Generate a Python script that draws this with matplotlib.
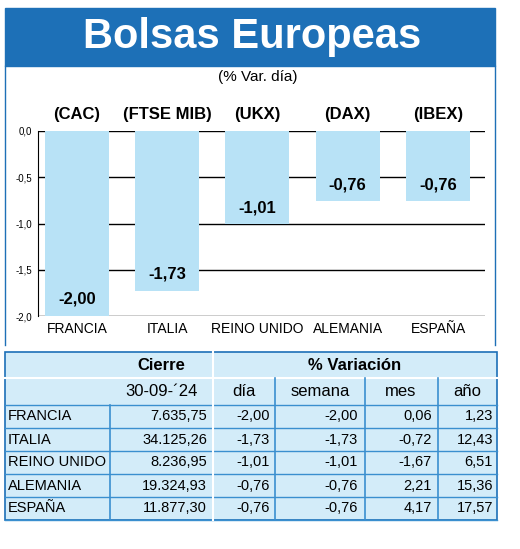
import matplotlib
matplotlib.use("Agg")
import matplotlib.pyplot as plt
from matplotlib.patches import Rectangle

plt.rcParams['font.family'] = ['Liberation Sans Narrow', 'Liberation Sans', 'DejaVu Sans']

codes = ["(CAC)", "(FTSE MIB)", "(UKX)", "(DAX)", "(IBEX)"]
countries = ["FRANCIA", "ITALIA", "REINO UNIDO", "ALEMANIA", "ESPAÑA"]
values = [-2.00, -1.73, -1.01, -0.76, -0.76]
cierre = ["7.635,75", "34.125,26", "8.236,95", "19.324,93", "11.877,30"]
dia = ["-2,00", "-1,73", "-1,01", "-0,76", "-0,76"]
semana = ["-2,00", "-1,73", "-1,01", "-0,76", "-0,76"]
mes = ["0,06", "-0,72", "-1,67", "2,21", "4,17"]
anio = ["1,23", "12,43", "6,51", "15,36", "17,57"]
yticks = [0.0, -0.5, -1.0, -1.5, -2.0]

W, H = 520, 549
fig = plt.figure(figsize=(W/100, H/100), dpi=100)
BLUE = "#1d70b7"
LIGHT = "#b8e2f6"

# background axes in pixel coords
bg = fig.add_axes([0, 0, 1, 1])
bg.set_xlim(0, W); bg.set_ylim(H, 0); bg.axis("off")
bg.add_patch(Rectangle((5, 8), 490, 58, color=BLUE))
bg.text(252, 37, "Bolsas Europeas", color="white", fontsize=30, fontweight="bold",
        ha="center", va="center", family=['Liberation Sans', 'DejaVu Sans'])
bg.text(258, 77, "(% Var. día)", fontsize=11, ha="center", va="center")
bg.plot([5, 5], [66, 345], color=BLUE, lw=1)
bg.plot([495, 495], [66, 345], color=BLUE, lw=1)

# chart
x0, x1, yt, yb = 38, 485, 131, 316
ax = fig.add_axes([x0/W, 1-yb/H, (x1-x0)/W, (yb-yt)/H])
xs = list(range(len(values)))
ax.bar(xs, values, width=0.71, color=LIGHT, zorder=2)
ax.set_ylim(-2.0, 0.0)
ax.set_xlim(-0.43, 4.52)
ax.set_yticks(yticks)
ax.set_yticklabels([f"{v:.1f}".replace(".", ",") for v in yticks], fontsize=7)
ax.yaxis.grid(True, color="black", lw=1, zorder=1)
ax.set_xticks(xs)
ax.set_xticklabels(countries, fontsize=10)
ax.tick_params(length=0, pad=4)
for s in ["top", "right", "bottom"]:
    ax.spines[s].set_visible(False)
ax.spines["left"].set_color("black")
for i, v in enumerate(values):
    ax.text(i, v + 0.1, f"{v:.2f}".replace(".", ","), ha="center", va="bottom",
            fontsize=12, fontweight="bold")
    ax.text(i, 0.1, codes[i], ha="center", va="bottom", fontsize=12, fontweight="bold")

# table
tx = [5, 110, 213, 275, 365, 438, 497]
ty0, h1, h2, rh = 352, 26, 27, 23
tot = ty0 + h1 + h2 + rh*5
bg.add_patch(Rectangle((tx[0], ty0), tx[-1]-tx[0], tot-ty0, facecolor="#d3ecf9", edgecolor=BLUE, lw=1.2))
lc = "#3a8fcf"
bg.plot([tx[0], tx[-1]], [ty0+h1]*2, color="white", lw=1.5)
for k in range(6):
    yy = ty0 + h1 + h2 + k*rh
    bg.plot([tx[0], tx[-1]], [yy, yy], color=lc, lw=1)
for i, xx in enumerate(tx[1:-1], start=1):
    top = ty0 if xx in (110, 213) else ty0 + h1
    if xx == 110:
        top = ty0 + h1 + h2
    bg.plot([xx, xx], [top, tot], color=lc if xx != 213 else "white", lw=1.2)
bg.plot([213, 213], [ty0, tot], color="white", lw=1.5)
bg.text(161, ty0+h1/2, "Cierre", fontsize=12, fontweight="bold", ha="center", va="center")
bg.text(355, ty0+h1/2, "% Variación", fontsize=12, fontweight="bold", ha="center", va="center")
yh = ty0 + h1 + h2/2
bg.text(161, yh, "30-09-´24", fontsize=12, ha="center", va="center")
for cx, t in zip([244, 320, 401, 467], ["día", "semana", "mes", "año"]):
    bg.text(cx, yh, t, fontsize=12, ha="center", va="center")
for r in range(5):
    yy = ty0 + h1 + h2 + r*rh + rh/2
    bg.text(8, yy, countries[r], fontsize=10.5, ha="left", va="center")
    bg.text(207, yy, cierre[r], fontsize=10.5, ha="right", va="center")
    bg.text(270, yy, dia[r], fontsize=10.5, ha="right", va="center")
    bg.text(358, yy, semana[r], fontsize=10.5, ha="right", va="center")
    bg.text(432, yy, mes[r], fontsize=10.5, ha="right", va="center")
    bg.text(493, yy, anio[r], fontsize=10.5, ha="right", va="center")

fig.savefig("out.png", dpi=100)
